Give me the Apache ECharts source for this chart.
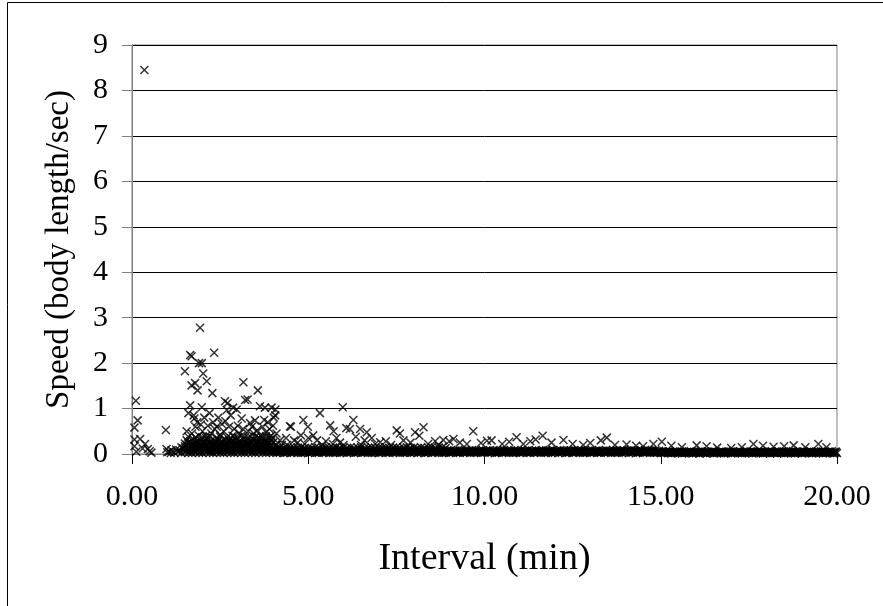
<!DOCTYPE html>
<html><head><meta charset="utf-8">
<script src="https://cdn.jsdelivr.net/npm/echarts/dist/echarts.min.js"></script>
<style>html,body{margin:0;padding:0;background:#fff}#chart{width:883px;height:606px}</style>
</head><body><div id="chart"></div>
<script>
// Tick labels
const xTickLabels = ['0.00','5.00','10.00','15.00','20.00'];
const yTickLabels = ['0','1','2','3','4','5','6','7','8','9'];

// Scattered observations [interval (min), speed (body length/sec)]
const outlierPoints = [
[0.35,8.45],[0.11,1.17],[0.16,0.74],[0.07,0.58],[0.23,0.33],[0.07,0.32],[0.37,0.22],[0.07,0.17],[0.45,0.11],[0.5,0.06],[0.55,0.03],[0.3,0.12],[0.12,0.05],[0.96,0.53],[0.98,0.11],[1.05,0.05],[1.12,0.08],
[1.93,2.78],[1.65,2.18],[2.33,2.23],[1.69,2.15],[1.90,2.0],[1.98,2.0],[1.50,1.82],[2.02,1.77],[2.12,1.60],[1.79,1.56],[1.69,1.51],[1.86,1.40],[2.28,1.34],[3.16,1.58],[3.57,1.40],[3.21,1.19],[3.28,1.2],[2.64,1.16],[2.71,1.12],[1.65,1.07],[1.98,1.03],[2.87,1.02],[2.97,0.98],[3.63,1.05],[3.77,1.02],[3.96,1.02],[4.07,0.98],[2.69,0.97],[4.06,0.85],[4.48,0.61],[4.37,0.35],[3.49,0.74],[3.11,0.78],[1.77,0.78],
[1.6,0.9],[1.75,0.85],[1.85,0.7],[1.95,0.65],[2.05,0.8],[2.15,0.62],[2.2,0.9],[2.3,0.7],[2.4,0.6],[2.45,0.8],[2.55,0.66],[2.6,0.5],[2.75,0.6],[2.8,0.85],[2.9,0.55],[3.0,0.62],[3.05,0.45],[3.15,0.55],[3.3,0.5],[3.4,0.6],[3.45,0.45],[3.55,0.52],[3.65,0.4],[3.7,0.6],[3.8,0.48],[3.85,0.7],[3.9,0.55],[3.95,0.4],[4.0,0.62],[4.02,0.8],[1.55,0.5],[1.7,0.45],[2.0,0.5],[2.25,0.45],[2.5,0.42],[2.85,0.4],[3.2,0.38],[3.6,0.36],[1.8,0.6],[2.1,0.4],[2.35,0.55],[2.65,0.72],[3.35,0.68],[3.75,0.75],[4.1,0.45],[4.2,0.3],[4.25,0.2],
[4.51,0.6],[4.86,0.75],[4.99,0.6],[5.33,0.9],[5.62,0.63],[5.72,0.5],[5.98,1.03],[6.08,0.57],[6.28,0.75],[6.18,0.55],[6.47,0.55],[6.66,0.48],[7.04,0.26],[7.51,0.52],[7.6,0.45],[8.03,0.48],[8.27,0.59],[8.83,0.31],[4.79,0.41],[5.14,0.41],[4.6,0.3],[4.7,0.25],[5.0,0.35],[5.25,0.3],[5.5,0.28],[5.8,0.35],[5.9,0.25],[6.35,0.38],[6.6,0.3],[6.8,0.35],[6.9,0.22],[7.2,0.28],[7.35,0.2],[7.7,0.3],[7.9,0.25],[8.15,0.4],[8.4,0.22],[8.6,0.28],[8.7,0.2],[5.4,0.2],[5.7,0.22],[6.0,0.2],[6.5,0.2],[4.4,0.2],[4.9,0.22],
[9.68,0.50],[10.91,0.37],[11.65,0.40],[13.47,0.36],[9.12,0.33],[10.07,0.29],[9.0,0.28],[9.3,0.25],[9.5,0.22],[9.9,0.24],[10.2,0.3],[10.5,0.22],[10.7,0.27],[11.1,0.22],[11.3,0.28],[11.45,0.32],[11.9,0.25],[12.24,0.31],[12.5,0.22],[12.8,0.2],[13.0,0.24],[13.3,0.3],[13.7,0.2],[14.03,0.21],[14.3,0.18],[14.5,0.17],[14.79,0.22],[15.03,0.27],[15.3,0.18],[15.6,0.15],[16.02,0.19],[16.3,0.17],[16.6,0.14],[17.0,0.13],[17.3,0.15],[17.63,0.22],[17.9,0.18],[18.2,0.16],[18.5,0.17],[18.77,0.19],[19.1,0.15],[19.47,0.22],[19.7,0.15],[19.97,0.05]
];

// Dense band near zero, lowest layer
const bandLow = [
[1.0,.04],[1.1,.02],[1.2,.03],[1.3,.05],[1.4,.02],[1.5,.04],[1.6,.03],[1.7,.02],[1.8,.04],[1.9,.03],
[2.0,.02],[2.1,.04],[2.2,.03],[2.3,.02],[2.4,.04],[2.5,.03],[2.6,.02],[2.7,.04],[2.8,.03],[2.9,.02],
[3.0,.04],[3.1,.03],[3.2,.02],[3.3,.04],[3.4,.03],[3.5,.02],[3.6,.04],[3.7,.03],[3.8,.02],[3.9,.04],
[4.0,.03],[4.1,.02],[4.2,.04],[4.3,.02],[4.4,.03],[4.5,.02],[4.6,.04],[4.7,.03],[4.8,.02],[4.9,.03],
[5.0,.02],[5.1,.04],[5.2,.03],[5.3,.02],[5.4,.03],[5.5,.04],[5.6,.02],[5.7,.03],[5.8,.04],[5.9,.02],
[6.0,.03],[6.1,.02],[6.2,.04],[6.3,.02],[6.4,.03],[6.5,.02],[6.6,.04],[6.7,.03],[6.8,.02],[6.9,.03],
[7.0,.02],[7.1,.04],[7.2,.03],[7.3,.02],[7.4,.03],[7.5,.04],[7.6,.02],[7.7,.03],[7.8,.04],[7.9,.02],
[8.0,.03],[8.1,.02],[8.2,.04],[8.3,.02],[8.4,.03],[8.5,.02],[8.6,.04],[8.7,.03],[8.8,.02],[8.9,.03],
[9.0,.02],[9.1,.04],[9.2,.03],[9.3,.02],[9.4,.03],[9.5,.04],[9.6,.02],[9.7,.03],[9.8,.04],[9.9,.02],
[10.0,.03],[10.1,.02],[10.2,.04],[10.3,.02],[10.4,.03],[10.5,.02],[10.6,.04],[10.7,.03],[10.8,.02],[10.9,.03],
[11.0,.02],[11.1,.04],[11.2,.03],[11.3,.02],[11.4,.03],[11.5,.04],[11.6,.02],[11.7,.03],[11.8,.04],[11.9,.02],
[12.0,.03],[12.1,.02],[12.2,.04],[12.3,.02],[12.4,.03],[12.5,.02],[12.6,.04],[12.7,.03],[12.8,.02],[12.9,.03],
[13.0,.02],[13.1,.04],[13.2,.03],[13.3,.02],[13.4,.03],[13.5,.04],[13.6,.02],[13.7,.03],[13.8,.04],[13.9,.02],
[14.0,.03],[14.1,.02],[14.2,.04],[14.3,.02],[14.4,.03],[14.5,.02],[14.6,.04],[14.7,.03],[14.8,.02],[14.9,.03],
[15.0,.02],[15.1,.03],[15.2,.02],[15.3,.01],[15.4,.03],[15.5,.02],[15.6,.01],[15.7,.03],[15.8,.02],[15.9,.01],
[16.0,.02],[16.1,.01],[16.2,.03],[16.3,.01],[16.4,.02],[16.5,.01],[16.6,.03],[16.7,.02],[16.8,.01],[16.9,.02],
[17.0,.01],[17.1,.03],[17.2,.02],[17.3,.01],[17.4,.02],[17.5,.03],[17.6,.01],[17.7,.02],[17.8,.03],[17.9,.01],
[18.0,.02],[18.1,.01],[18.2,.03],[18.3,.01],[18.4,.02],[18.5,.01],[18.6,.03],[18.7,.02],[18.8,.01],[18.9,.02],
[19.0,.01],[19.1,.03],[19.2,.02],[19.3,.01],[19.4,.02],[19.5,.03],[19.6,.01],[19.7,.02],[19.8,.03],[19.9,.01],[20.0,.02]
];

// Dense band, second low layer (staggered)
const bandLow2 = [
[4.05,.05],[4.15,.04],[4.25,.05],[4.35,.03],[4.45,.05],[4.55,.04],[4.65,.05],[4.75,.04],[4.85,.03],[4.95,.05],
[5.05,.04],[5.15,.05],[5.25,.03],[5.35,.05],[5.45,.04],[5.55,.05],[5.65,.04],[5.75,.03],[5.85,.05],[5.95,.04],
[6.05,.05],[6.15,.04],[6.25,.05],[6.35,.03],[6.45,.05],[6.55,.04],[6.65,.05],[6.75,.04],[6.85,.03],[6.95,.05],
[7.05,.04],[7.15,.05],[7.25,.03],[7.35,.05],[7.45,.04],[7.55,.05],[7.65,.04],[7.75,.03],[7.85,.05],[7.95,.04],
[8.05,.05],[8.15,.04],[8.25,.05],[8.35,.03],[8.45,.05],[8.55,.04],[8.65,.05],[8.75,.04],[8.85,.03],[8.95,.05],
[9.05,.04],[9.15,.05],[9.25,.03],[9.35,.05],[9.45,.04],[9.55,.05],[9.65,.04],[9.75,.03],[9.85,.05],[9.95,.04],
[10.05,.05],[10.15,.04],[10.25,.05],[10.35,.03],[10.45,.05],[10.55,.04],[10.65,.05],[10.75,.04],[10.85,.03],[10.95,.05],
[11.05,.04],[11.15,.05],[11.25,.03],[11.35,.05],[11.45,.04],[11.55,.05],[11.65,.04],[11.75,.03],[11.85,.05],[11.95,.04],
[12.05,.05],[12.15,.04],[12.25,.05],[12.35,.03],[12.45,.05],[12.55,.04],[12.65,.05],[12.75,.04],[12.85,.03],[12.95,.05],
[13.05,.04],[13.15,.05],[13.25,.03],[13.35,.05],[13.45,.04],[13.55,.05],[13.65,.04],[13.75,.03],[13.85,.05],[13.95,.04],
[14.05,.05],[14.15,.04],[14.25,.05],[14.35,.03],[14.45,.05],[14.55,.04],[14.65,.05],[14.75,.04],[14.85,.03],[14.95,.05],
[15.05,.03],[15.15,.04],[15.25,.02],[15.35,.03],[15.45,.04],[15.55,.03],[15.65,.02],[15.75,.04],[15.85,.03],[15.95,.02],
[16.05,.04],[16.15,.03],[16.25,.02],[16.35,.04],[16.45,.03],[16.55,.02],[16.65,.04],[16.75,.03],[16.85,.02],[16.95,.04],
[17.05,.03],[17.15,.04],[17.25,.02],[17.35,.03],[17.45,.04],[17.55,.03],[17.65,.02],[17.75,.04],[17.85,.03],[17.95,.02],
[18.05,.04],[18.15,.03],[18.25,.02],[18.35,.04],[18.45,.03],[18.55,.02],[18.65,.04],[18.75,.03],[18.85,.02],[18.95,.04],
[19.05,.03],[19.15,.04],[19.25,.02],[19.35,.03],[19.45,.04],[19.55,.03],[19.65,.02],[19.75,.04],[19.85,.03],[19.95,.02]
];

// Dense band, middle layer
const bandMid = [
[1.25,.1],[1.35,.08],[1.45,.12],[1.55,.09],[1.65,.11],[1.75,.08],[1.85,.1],[1.95,.09],
[2.05,.1],[2.15,.09],[2.25,.11],[2.35,.1],[2.45,.08],[2.55,.11],[2.65,.1],[2.75,.09],[2.85,.11],[2.95,.1],
[3.05,.09],[3.15,.11],[3.25,.1],[3.35,.08],[3.45,.11],[3.55,.1],[3.65,.09],[3.75,.11],[3.85,.1],[3.95,.09],
[4.05,.09],[4.15,.08],[4.25,.1],[4.35,.08],[4.45,.09],[4.55,.07],[4.65,.1],[4.75,.08],[4.85,.09],[4.95,.08],
[5.05,.08],[5.15,.1],[5.25,.09],[5.35,.07],[5.45,.09],[5.55,.1],[5.65,.08],[5.75,.09],[5.85,.1],[5.95,.07],
[6.05,.09],[6.15,.08],[6.25,.1],[6.35,.08],[6.45,.09],[6.55,.07],[6.65,.1],[6.75,.08],[6.85,.09],[6.95,.08],
[7.05,.08],[7.15,.1],[7.25,.09],[7.35,.07],[7.45,.09],[7.55,.1],[7.65,.08],[7.75,.09],[7.85,.1],[7.95,.07],
[8.05,.09],[8.15,.08],[8.25,.1],[8.35,.08],[8.45,.09],[8.55,.07],[8.65,.1],[8.75,.08],[8.85,.09],[8.95,.08],
[9.05,.08],[9.15,.07],[9.25,.09],[9.35,.07],[9.45,.08],[9.55,.07],[9.65,.09],[9.75,.08],[9.85,.07],[9.95,.08],
[10.05,.07],[10.15,.09],[10.25,.08],[10.35,.07],[10.45,.08],[10.55,.09],[10.65,.07],[10.75,.08],[10.85,.09],[10.95,.07],
[11.05,.08],[11.15,.07],[11.25,.09],[11.35,.07],[11.45,.08],[11.55,.07],[11.65,.09],[11.75,.08],[11.85,.07],[11.95,.08],
[12.05,.07],[12.15,.09],[12.25,.08],[12.35,.07],[12.45,.08],[12.55,.09],[12.65,.07],[12.75,.08],[12.85,.09],[12.95,.07],
[13.05,.08],[13.15,.07],[13.25,.09],[13.35,.07],[13.45,.08],[13.55,.07],[13.65,.09],[13.75,.08],[13.85,.07],[13.95,.08],
[14.05,.07],[14.15,.09],[14.25,.08],[14.35,.07],[14.45,.08],[14.55,.09],[14.65,.07],[14.75,.08],[14.85,.09],[14.95,.07],
[15.05,.06],[15.15,.05],[15.25,.06],[15.35,.04],[15.45,.05],[15.55,.06],[15.65,.05],[15.75,.04],[15.85,.06],[15.95,.05],
[16.05,.05],[16.15,.06],[16.25,.04],[16.35,.05],[16.45,.06],[16.55,.05],[16.65,.04],[16.75,.06],[16.85,.05],[16.95,.04],
[17.05,.06],[17.15,.05],[17.25,.06],[17.35,.04],[17.45,.05],[17.55,.06],[17.65,.05],[17.75,.04],[17.85,.06],[17.95,.05],
[18.05,.05],[18.15,.06],[18.25,.04],[18.35,.05],[18.45,.06],[18.55,.05],[18.65,.04],[18.75,.06],[18.85,.05],[18.95,.04],
[19.05,.06],[19.15,.05],[19.25,.06],[19.35,.04],[19.45,.05],[19.55,.06],[19.65,.05],[19.75,.04],[19.85,.06],[19.95,.05]
];

// Dense band, second middle layer (staggered)
const bandMid2 = [
[4.0,.07],[4.1,.06],[4.2,.07],[4.3,.08],[4.4,.06],[4.5,.07],[4.6,.08],[4.7,.06],[4.8,.07],[4.9,.06],
[5.0,.07],[5.1,.06],[5.2,.08],[5.3,.06],[5.4,.07],[5.5,.06],[5.6,.07],[5.7,.08],[5.8,.06],[5.9,.07],
[6.0,.07],[6.1,.06],[6.2,.07],[6.3,.08],[6.4,.06],[6.5,.07],[6.6,.08],[6.7,.06],[6.8,.07],[6.9,.06],
[7.0,.07],[7.1,.06],[7.2,.08],[7.3,.06],[7.4,.07],[7.5,.06],[7.6,.07],[7.7,.08],[7.8,.06],[7.9,.07],
[8.0,.07],[8.1,.06],[8.2,.07],[8.3,.08],[8.4,.06],[8.5,.07],[8.6,.08],[8.7,.06],[8.8,.07],[8.9,.06],
[9.0,.06],[9.1,.05],[9.2,.07],[9.3,.06],[9.4,.05],[9.5,.06],[9.6,.07],[9.7,.05],[9.8,.06],[9.9,.07],
[10.0,.06],[10.1,.07],[10.2,.05],[10.3,.06],[10.4,.07],[10.5,.05],[10.6,.06],[10.7,.07],[10.8,.05],[10.9,.06],
[11.0,.06],[11.1,.05],[11.2,.07],[11.3,.06],[11.4,.05],[11.5,.06],[11.6,.07],[11.7,.05],[11.8,.06],[11.9,.07],
[12.0,.06],[12.1,.07],[12.2,.05],[12.3,.06],[12.4,.07],[12.5,.05],[12.6,.06],[12.7,.07],[12.8,.05],[12.9,.06],
[13.0,.06],[13.1,.05],[13.2,.07],[13.3,.06],[13.4,.05],[13.5,.06],[13.6,.07],[13.7,.05],[13.8,.06],[13.9,.07],
[14.0,.06],[14.1,.07],[14.2,.05],[14.3,.06],[14.4,.07],[14.5,.05],[14.6,.06],[14.7,.07],[14.8,.05],[14.9,.06],
[15.0,.05],[15.1,.04],[15.2,.05],[15.3,.04],[15.4,.05],[15.5,.04],[15.6,.05],[15.7,.04],[15.8,.05],[15.9,.04],
[16.0,.04],[16.1,.05],[16.2,.04],[16.3,.05],[16.4,.04],[16.5,.05],[16.6,.04],[16.7,.05],[16.8,.04],[16.9,.05],
[17.0,.05],[17.1,.04],[17.2,.05],[17.3,.04],[17.4,.05],[17.5,.04],[17.6,.05],[17.7,.04],[17.8,.05],[17.9,.04],
[18.0,.04],[18.1,.05],[18.2,.04],[18.3,.05],[18.4,.04],[18.5,.05],[18.6,.04],[18.7,.05],[18.8,.04],[18.9,.05],
[19.0,.05],[19.1,.04],[19.2,.05],[19.3,.04],[19.4,.05],[19.5,.04],[19.6,.05],[19.7,.04],[19.8,.05],[19.9,.04]
];

// Dense band, upper layer
const bandHigh = [
[1.4,.15],[1.5,.17],[1.6,.16],[1.7,.18],[1.8,.17],[1.9,.16],[2.0,.18],[2.1,.17],[2.2,.16],[2.3,.18],
[2.4,.17],[2.5,.16],[2.6,.18],[2.7,.17],[2.8,.16],[2.9,.18],[3.0,.17],[3.1,.16],[3.2,.18],[3.3,.17],
[3.4,.16],[3.5,.18],[3.6,.17],[3.7,.16],[3.8,.18],[3.9,.17],
[4.0,.14],[4.1,.13],[4.2,.15],[4.3,.13],[4.4,.14],[4.5,.15],[4.6,.13],[4.7,.14],[4.8,.15],[4.9,.13],
[5.0,.14],[5.1,.13],[5.2,.15],[5.3,.13],[5.4,.14],[5.5,.15],[5.6,.13],[5.7,.14],[5.8,.15],[5.9,.13],
[6.0,.14],[6.1,.13],[6.2,.15],[6.3,.13],[6.4,.14],[6.5,.15],[6.6,.13],[6.7,.14],[6.8,.15],[6.9,.13],
[7.0,.14],[7.1,.13],[7.2,.15],[7.3,.13],[7.4,.14],[7.5,.15],[7.6,.13],[7.7,.14],[7.8,.15],[7.9,.13],
[8.0,.14],[8.1,.13],[8.2,.15],[8.3,.13],[8.4,.14],[8.5,.15],[8.6,.13],[8.7,.14],[8.8,.15],[8.9,.13]
];

// Dense cluster between 1.5 and 4 min
const clusterRow0 = [
[1.55,.06],[1.65,.05],[1.75,.07],[1.85,.06],[1.95,.05],[2.05,.07],[2.15,.06],[2.25,.05],[2.35,.07],[2.45,.06],
[2.55,.05],[2.65,.07],[2.75,.06],[2.85,.05],[2.95,.07],[3.05,.06],[3.15,.05],[3.25,.07],[3.35,.06],[3.45,.05],
[3.55,.07],[3.65,.06],[3.75,.05],[3.85,.07],[3.95,.06],
[1.5,.13],[1.6,.12],[1.7,.14],[1.8,.13],[1.9,.12],[2.0,.14],[2.1,.13],[2.2,.12],[2.3,.14],[2.4,.13],
[2.5,.12],[2.6,.14],[2.7,.13],[2.8,.12],[2.9,.14],[3.0,.13],[3.1,.12],[3.2,.14],[3.3,.13],[3.4,.12],
[3.5,.14],[3.6,.13],[3.7,.12],[3.8,.14],[3.9,.13],[4.0,.12],
[1.55,.2],[1.65,.19],[1.75,.21],[1.85,.2],[1.95,.19],[2.05,.21],[2.15,.2],[2.25,.19],[2.35,.21],[2.45,.2],
[2.55,.19],[2.65,.21],[2.75,.2],[2.85,.19],[2.95,.21],[3.05,.2],[3.15,.19],[3.25,.21],[3.35,.2],[3.45,.19],
[3.55,.21],[3.65,.2],[3.75,.19],[3.85,.21],[3.95,.2]
];
const clusterRow1 = [
[1.5,.23],[1.6,.25],[1.7,.22],[1.8,.24],[1.9,.23],[2.0,.25],[2.1,.22],[2.2,.24],[2.3,.23],[2.4,.25],
[2.5,.22],[2.6,.24],[2.7,.23],[2.8,.25],[2.9,.22],[3.0,.24],[3.1,.23],[3.2,.25],[3.3,.22],[3.4,.24],
[3.5,.23],[3.6,.25],[3.7,.22],[3.8,.24],[3.9,.23],[4.0,.25],[4.1,.2]
];
const clusterRow2 = [
[1.55,.3],[1.65,.28],[1.75,.32],[1.85,.29],[1.95,.31],[2.05,.28],[2.15,.32],[2.25,.3],[2.35,.29],[2.45,.31],
[2.55,.28],[2.65,.32],[2.75,.3],[2.85,.29],[2.95,.31],[3.05,.28],[3.15,.32],[3.25,.3],[3.35,.29],[3.45,.31],
[3.55,.28],[3.65,.32],[3.75,.3],[3.85,.29],[3.95,.31]
];
const clusterRow3 = [
[1.6,.38],[1.8,.36],[1.9,.4],[2.0,.37],[2.1,.35],[2.2,.39],[2.4,.36],[2.5,.38],[2.7,.37],[2.8,.35],
[2.9,.39],[3.0,.36],[3.1,.4],[3.3,.37],[3.4,.35],[3.5,.38],[3.7,.36],[3.8,.39],[3.9,.37],[4.0,.35]
];

const allPoints = [].concat(bandLow, bandLow2, bandMid, bandMid2, bandHigh, clusterRow0, clusterRow1, clusterRow2, clusterRow3, outlierPoints);

const FONT = "'Liberation Serif','Times New Roman',serif";
const chart = echarts.init(document.getElementById('chart'), null, {renderer:'canvas'});
chart.setOption({
  animation:false,
  backgroundColor:'#ffffff',
  graphic:[{type:'rect', silent:true, z:-1, shape:{x:7.5,y:2.5,width:900,height:700}, style:{fill:'none',stroke:'#000',lineWidth:1}}],
  grid:{left:132,right:46,top:45,bottom:152,show:true,borderColor:'#808080',borderWidth:1,backgroundColor:'transparent'},
  xAxis:{
    type:'value',min:0,max:20,interval:5,
    name:'Interval (min)',nameLocation:'middle',nameGap:86,
    nameTextStyle:{fontFamily:FONT,fontSize:38,color:'#000'},
    axisLine:{show:true,lineStyle:{color:'#808080',width:1}},
    axisTick:{show:true,length:10,lineStyle:{color:'#000'}},
    axisLabel:{margin:28,fontFamily:FONT,fontSize:30,color:'#000',formatter:v=>xTickLabels[Math.round(v/5)]},
    splitLine:{show:false}
  },
  yAxis:{
    type:'value',min:0,max:9,interval:1,
    name:'Speed (body length/sec)',nameLocation:'middle',nameGap:56,nameRotate:90,
    nameTextStyle:{fontFamily:FONT,fontSize:33,color:'#000'},
    axisLine:{show:true,lineStyle:{color:'#808080',width:1}},
    axisTick:{show:true,length:10,lineStyle:{color:'#808080'}},
    axisLabel:{margin:24,fontFamily:FONT,fontSize:30,color:'#000',formatter:v=>yTickLabels[Math.round(v)]},
    splitLine:{show:true,lineStyle:{color:'#000',width:1}}
  },
  series:[{
    type:'scatter',data:allPoints,silent:true,large:false,progressive:0,
    symbol:'path://M0,0L10,10M0,10L10,0',symbolSize:8,
    itemStyle:{color:'rgba(0,0,0,0)',borderColor:'#000',borderWidth:1.5}
  }]
});
</script></body></html>
